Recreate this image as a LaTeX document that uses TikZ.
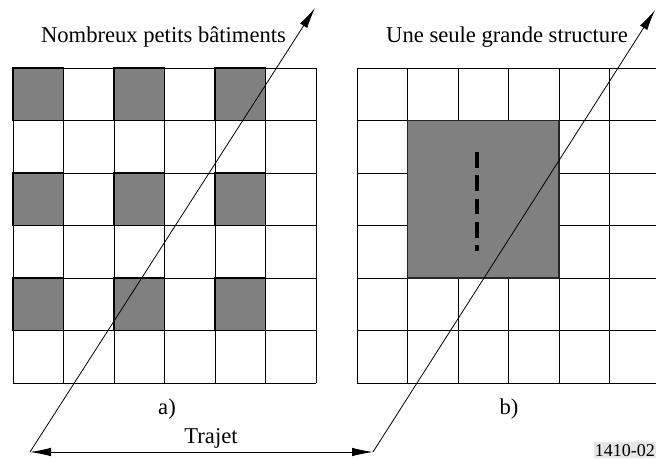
\documentclass[tikz,border=0pt]{standalone}
\usepackage{fontspec}
\setmainfont{Liberation Serif}
\usetikzlibrary{arrows.meta}
\tikzset{
  gridline/.style={draw=black, line width=0.9pt},
  bldg/.style={fill=gray50, draw=black, line width=1.8pt},
  bigbldg/.style={fill=gray50, draw=black!85, line width=1.4pt},
  path/.style={draw=black, line width=0.8pt},
  arr/.style={-{Latex[length=21pt,width=8.5pt]}},
  lbl/.style={font=\fontsize{22.6}{24}\selectfont, anchor=base, inner sep=0pt},
}
\definecolor{gray50}{HTML}{808080}
\definecolor{tagbg}{HTML}{E6E6E6}
\begin{document}
\begin{tikzpicture}[x=1pt,y=-1pt]
\useasboundingbox (0,0) rectangle (656,459);
\clip (0,0) rectangle (656,459);
% left grid
\foreach \i in {0,...,6} {
  \draw[gridline] (13+50.5*\i,68) -- (13+50.5*\i,383);
  \draw[gridline] (13,68+52.5*\i) -- (316,68+52.5*\i);
}
\foreach \c in {0,2,4} \foreach \r in {0,2,4} {
  \draw[bldg] (13+50.5*\c,68+52.5*\r) rectangle ++(50.5,52.5);
}
% right grid
\foreach \i in {0,...,6} {
  \draw[gridline] (357+50.5*\i,68) -- (357+50.5*\i,383);
  \draw[gridline] (357,68+52.5*\i) -- (660,68+52.5*\i);
}
\draw[bigbldg] (407.5,120.5) rectangle (559,278);
\draw[black, line width=4pt, dash pattern=on 15.7pt off 7.6pt] (477,152) -- (477,251);
% labels
\node[lbl] (ta) at (163.5,42) {Nombreux petits bâtiments};
\node[lbl] (tb) at (507,42) {Une seule grande structure};
\node[lbl] (la) at (167,414) {a)};
\node[lbl] (lb) at (509,414) {b)};
\node[lbl] (tr) at (211,443) {Trajet};
\node[anchor=base east, inner xsep=1pt, inner ysep=2pt, fill=tagbg, font=\fontsize{18}{20}\selectfont] (tag) at (656,456) {1410-02};
% paths
\coordinate (a0) at (30,452);
\coordinate (a1) at (315,8);
\coordinate (b0) at (373,452);
\coordinate (b1) at (655,10);
\draw[path, arr] (a0) -- (a1);
\draw[path, arr] (b0) -- (b1);
\draw[path, {Latex[length=21pt,width=8.5pt]}-{Latex[length=21pt,width=8.5pt]}] (a0) -- (b0);
\end{tikzpicture}
\end{document}
